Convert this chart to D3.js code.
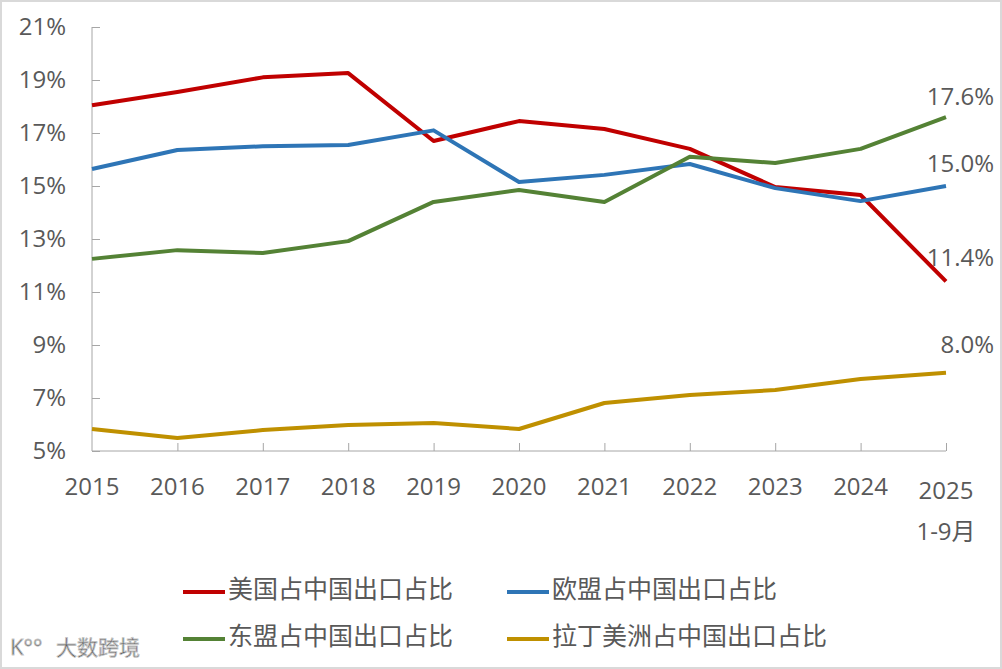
<!DOCTYPE html>
<html>
<head>
<meta charset="utf-8">
<script src="https://cdn.jsdelivr.net/npm/d3@7/dist/d3.min.js"></script>
<style>
  html, body { margin: 0; padding: 0; background: #fff; }
  svg { display: block; }
  text { font-family: "Open Sans", "Noto Sans CJK SC", sans-serif; fill: #595959; }
</style>
</head>
<body>
<svg width="1002" height="669"></svg>
<script>
// data
const years = ["2015", "2016", "2017", "2018", "2019", "2020", "2021", "2022", "2023", "2024", "2025"];
const usShare     = [18.05, 18.55, 19.1, 19.26, 16.7, 17.45, 17.15, 16.4, 14.96, 14.66, 11.4];
const euShare     = [15.64, 16.36, 16.5, 16.55, 17.1, 15.15, 15.42, 15.83, 14.92, 14.43, 15.0];
const aseanShare  = [12.25, 12.58, 12.47, 12.92, 14.4, 14.85, 14.4, 16.1, 15.87, 16.4, 17.6];
const latamShare  = [5.83, 5.49, 5.79, 5.98, 6.06, 5.83, 6.81, 7.11, 7.3, 7.72, 7.95];
const yTicks = [5, 7, 9, 11, 13, 15, 17, 19, 21];
const endLabels = ["11.4%", "15.0%", "17.6%", "8.0%"];

const series = [
  { name: "美国占中国出口占比", values: usShare, color: "#C00000", label: endLabels[0], ly: 258 },
  { name: "欧盟占中国出口占比", values: euShare, color: "#2E75B6", label: endLabels[1], ly: 164 },
  { name: "东盟占中国出口占比", values: aseanShare, color: "#548235", label: endLabels[2], ly: 97 },
  { name: "拉丁美洲占中国出口占比", values: latamShare, color: "#BF9000", label: endLabels[3], ly: 345 }
];

const svg = d3.select("svg");

// outer frame
svg.append("rect")
  .attr("x", 1).attr("y", 1).attr("width", 1000).attr("height", 667)
  .attr("fill", "#fff").attr("stroke", "#d9d9d9").attr("stroke-width", 2);

const x = d3.scalePoint().domain(years).range([92, 946]);
const y = d3.scaleLinear().domain([5, 21]).range([451, 27]);

// y axis
const yAxis = svg.append("g")
  .attr("transform", "translate(92,0)")
  .call(d3.axisRight(y).tickValues(yTicks).tickSize(8).tickFormat(""));
yAxis.selectAll("line, path").attr("stroke", "#a6a6a6");
yAxis.select(".domain").attr("d", "M0," + y(21) + "V" + y(5));

svg.selectAll(".ylab")
  .data(yTicks)
  .join("text")
  .attr("class", "ylab")
  .attr("x", 66)
  .attr("y", d => y(d))
  .attr("dy", "0.35em")
  .attr("text-anchor", "end")
  .attr("font-size", 24)
  .text(d => d + "%");

// x axis
const xAxis = svg.append("g")
  .attr("transform", "translate(0," + y(5) + ")")
  .call(d3.axisTop(x).tickSize(8).tickFormat(""));
xAxis.selectAll("line, path").attr("stroke", "#a6a6a6");
xAxis.select(".domain").attr("d", "M" + x("2015") + ",0H" + x("2025"));
xAxis.selectAll(".tick").filter(d => d === "2015").remove();

svg.selectAll(".xlab")
  .data(years)
  .join("text")
  .attr("class", "xlab")
  .attr("x", d => x(d))
  .attr("y", d => d === "2025" ? 499 : 495)
  .attr("text-anchor", "middle")
  .attr("font-size", 24)
  .text(d => d);

svg.append("text")
  .attr("x", x("2025"))
  .attr("y", 540)
  .attr("text-anchor", "middle")
  .attr("font-size", 24)
  .text("1-9月");

// lines
const line = d3.line()
  .x((d, i) => x(years[i]))
  .y(d => y(d));

svg.selectAll(".series")
  .data(series)
  .join("path")
  .attr("class", "series")
  .attr("fill", "none")
  .attr("stroke", d => d.color)
  .attr("stroke-width", 4)
  .attr("stroke-linejoin", "round")
  .attr("d", d => line(d.values));

// end labels
svg.selectAll(".endlab")
  .data(series)
  .join("text")
  .attr("class", "endlab")
  .attr("x", 994)
  .attr("y", d => d.ly)
  .attr("dy", "0.35em")
  .attr("text-anchor", "end")
  .attr("font-size", 24)
  .attr("fill", "#404040")
  .text(d => d.label);

// legend
const legend = svg.selectAll(".legend")
  .data(series)
  .join("g")
  .attr("class", "legend")
  .attr("transform", (d, i) => "translate(" + (i % 2 === 0 ? 183 : 507) + "," + (i < 2 ? 592 : 639) + ")");

legend.append("line")
  .attr("x1", 0).attr("x2", 42)
  .attr("stroke", d => d.color)
  .attr("stroke-width", 4);

legend.append("text")
  .attr("x", 45)
  .attr("y", -3)
  .attr("dy", "0.35em")
  .attr("font-size", 25)
  .attr("font-family", "'Noto Sans CJK SC', sans-serif")
  .text(d => d.name);

// watermark
const wm = svg.append("g").attr("transform", "translate(10,655)");
wm.append("text")
  .attr("x", 0)
  .attr("font-size", 22)
  .attr("font-family", "'Noto Sans CJK SC', sans-serif")
  .attr("fill", "#f7f7f7")
  .attr("stroke", "#c8c8c8")
  .attr("stroke-width", 0.8)
  .text("K°°");
wm.append("text")
  .attr("x", 46)
  .attr("font-size", 21)
  .attr("font-family", "'Noto Sans CJK SC', sans-serif")
  .attr("fill", "#f7f7f7")
  .attr("stroke", "#c8c8c8")
  .attr("stroke-width", 0.8)
  .text("大数跨境");
</script>
</body>
</html>
